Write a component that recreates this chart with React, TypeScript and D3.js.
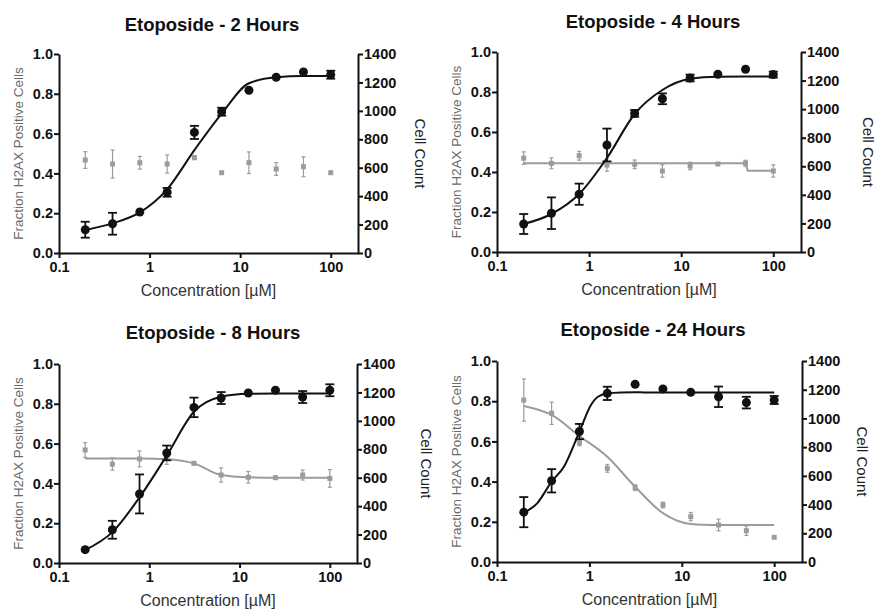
import React, { useEffect, useRef } from 'react';
import * as d3 from 'd3';

// doubling dilution series, µM
const concentrations = [0.195, 0.39, 0.78, 1.5625, 3.125, 6.25, 12.5, 25, 50, 100];
const titles = ['Etoposide - 2 Hours', 'Etoposide - 4 Hours', 'Etoposide - 8 Hours', 'Etoposide - 24 Hours'];
const fractionTicks = [0, 0.2, 0.4, 0.6, 0.8, 1.0];
const cellTicks = [0, 200, 400, 600, 800, 1000, 1200, 1400];
const concTicks = [0.1, 1, 10, 100];

// fraction H2AX positive cells (left axis), mean and error
const frac2h = [0.117, 0.147, 0.206, 0.305, 0.606, 0.71, 0.818, 0.883, 0.91, 0.896];
const frac2hErr = [0.04, 0.055, 0, 0.022, 0.033, 0.02, 0, 0, 0, 0.02];
const frac4h = [0.14, 0.194, 0.289, 0.535, 0.693, 0.766, 0.87, 0.889, 0.914, 0.887];
const frac4hErr = [0.05, 0.079, 0.053, 0.082, 0.017, 0.027, 0.017, 0, 0, 0.015];
const frac8h = [0.067, 0.167, 0.347, 0.553, 0.782, 0.829, 0.854, 0.868, 0.834, 0.868];
const frac8hErr = [0, 0.045, 0.098, 0.037, 0.049, 0.03, 0, 0, 0.03, 0.03];
const frac24h = [0.248, 0.404, 0.649, 0.839, 0.884, 0.861, 0.844, 0.822, 0.793, 0.806];
const frac24hErr = [0.075, 0.058, 0.038, 0.033, 0, 0, 0, 0.051, 0.029, 0.02];

// cell count (right axis), mean and error
const cells2h = [654, 626, 635, 626, 671, 565, 635, 591, 607, 565];
const cells2hErr = [59, 99, 45, 64, 14, 0, 76, 45, 70, 0];
const cells4h = [657, 621, 674, 609, 614, 567, 602, 616, 621, 567];
const cells4hErr = [44, 38, 31, 44, 30, 43, 26, 0, 21, 43];
const cells8h = [795, 696, 732, 736, 701, 619, 603, 600, 619, 595];
const cells8hErr = [52, 43, 56, 42, 10, 50, 41, 12, 35, 62];
const cells24h = [1128, 1036, 831, 652, 518, 397, 316, 258, 218, 172];
const cells24hErr = [147, 78, 21, 27, 20, 20, 29, 41, 33, 0];

// fitted curves
const fit2hY = [0.116, 0.149, 0.204, 0.32, 0.517, 0.7, 0.853, 0.883, 0.889, 0.889];
const fit4hY = [0.14, 0.19, 0.29, 0.47, 0.69, 0.81, 0.866, 0.876, 0.877, 0.877];
const fit8hY = [0.065, 0.155, 0.33, 0.54, 0.76, 0.835, 0.85, 0.852, 0.852, 0.852];
const fit24hX = [0.195, 0.272, 0.39, 0.53, 0.78, 1.04, 1.236, 1.5625, 2.2, 3.125, 6.25, 12.5, 25, 50, 100];
const fit24hY = [0.245, 0.292, 0.4, 0.474, 0.648, 0.781, 0.822, 0.838, 0.843, 0.844, 0.843, 0.843, 0.843, 0.843, 0.843];

const cellFit4hX = [0.195, 50, 53, 100];
const cellFit4hY = [621, 621, 569, 569];
const cellFit8hY = [736, 736, 735, 730, 701, 619, 603, 600, 600, 600];
const cellFit24hY = [1087, 1024, 878, 733, 524, 340, 265, 258, 257, 257];

const panels = [
  { title: titles[0], frac: frac2h, fracErr: frac2hErr, cells: cells2h, cellsErr: cells2hErr,
    fitX: concentrations, fitY: fit2hY, cellFitX: null, cellFitY: null,
    box: { left: 59, right: 358, top: 54, bottom: 253, titleX: 212, titleY: 31, cellX: 415 } },
  { title: titles[1], frac: frac4h, fracErr: frac4hErr, cells: cells4h, cellsErr: cells4hErr,
    fitX: concentrations, fitY: fit4hY, cellFitX: cellFit4hX, cellFitY: cellFit4hY,
    box: { left: 497, right: 801, top: 52, bottom: 252, titleX: 653, titleY: 28, cellX: 863 } },
  { title: titles[2], frac: frac8h, fracErr: frac8hErr, cells: cells8h, cellsErr: cells8hErr,
    fitX: concentrations, fitY: fit8hY, cellFitX: concentrations, cellFitY: cellFit8hY,
    box: { left: 59, right: 357, top: 364, bottom: 563, titleX: 213, titleY: 339, cellX: 421 } },
  { title: titles[3], frac: frac24h, fracErr: frac24hErr, cells: cells24h, cellsErr: cells24hErr,
    fitX: fit24hX, fitY: fit24hY, cellFitX: concentrations, cellFitY: cellFit24hY,
    box: { left: 497, right: 802, top: 361, bottom: 562, titleX: 653, titleY: 336, cellX: 857 } },
];

const FONT = '"Liberation Sans", Arial, sans-serif';
const GRAY = '#9c9c9c';

const App = () => {
  const svgRef = useRef<SVGSVGElement>(null);

  useEffect(() => {
    const svg = d3.select(svgRef.current);
    svg.selectAll('*').remove();

    panels.forEach(p => {
      const b = p.box;
      const g = svg.append('g');

      const x = d3.scaleLog().domain([0.1, 200]).range([b.left, b.right]);
      const yL = d3.scaleLinear().domain([0, 1]).range([b.bottom, b.top]);
      const yR = d3.scaleLinear().domain([0, 1400]).range([b.bottom, b.top]);

      const styleAxis = (sel: any) => {
        sel.attr('font-family', FONT).attr('font-size', 14.5).attr('font-weight', 'bold');
        sel.selectAll('path.domain').attr('stroke', '#111').attr('stroke-width', 2);
        sel.selectAll('.tick line').attr('stroke', '#111').attr('stroke-width', 2);
        sel.selectAll('.tick text').attr('fill', '#111');
      };

      g.append('g')
        .attr('transform', `translate(${b.left},0)`)
        .call(d3.axisLeft(yL).tickValues(fractionTicks).tickFormat(d3.format('.1f')).tickSize(5).tickSizeOuter(0).tickPadding(1))
        .call(styleAxis);

      g.append('g')
        .attr('transform', `translate(${b.right},0)`)
        .call(d3.axisRight(yR).tickValues(cellTicks).tickFormat(d3.format('d')).tickSize(5).tickSizeOuter(0).tickPadding(1))
        .call(styleAxis);

      g.append('g')
        .attr('transform', `translate(0,${b.bottom})`)
        .call(d3.axisBottom(x).tickValues(concTicks).tickFormat(d => String(d)).tickSize(5).tickSizeOuter(0).tickPadding(4))
        .call(styleAxis);

      // title and axis labels
      g.append('text')
        .attr('x', b.titleX).attr('y', b.titleY)
        .attr('text-anchor', 'middle')
        .style('font-family', FONT).style('font-size', '18.5px').style('font-weight', 'bold')
        .style('fill', '#111')
        .text(p.title);

      g.append('text')
        .attr('x', (b.left + b.right) / 2).attr('y', b.bottom + 43)
        .attr('text-anchor', 'middle')
        .style('font-family', FONT).style('font-size', '16px').style('fill', '#333')
        .text('Concentration [\u00b5M]');

      g.append('text')
        .attr('transform', `translate(${b.left - 36},${(b.top + b.bottom) / 2}) rotate(-90)`)
        .attr('text-anchor', 'middle')
        .style('font-family', FONT).style('font-size', '13.5px').style('fill', '#6a6a6a')
        .text('Fraction H2AX Positive Cells');

      g.append('text')
        .attr('transform', `translate(${b.cellX},${(b.top + b.bottom) / 2}) rotate(90)`)
        .attr('text-anchor', 'middle')
        .style('font-family', FONT).style('font-size', '15px').style('fill', '#222')
        .text('Cell Count');

      const line = d3.line<number>().curve(d3.curveMonotoneX);

      // cell count series (gray)
      if (p.cellFitX && p.cellFitY) {
        const pts = p.cellFitX.map((c, i) => [x(c), yR(p.cellFitY![i])] as [number, number]);
        g.append('path')
          .attr('d', (line as any)(pts))
          .attr('fill', 'none').attr('stroke', GRAY).attr('stroke-width', 2);
      }

      const cellData = concentrations.map((c, i) => ({ c, v: p.cells[i], e: p.cellsErr[i] }));
      const gErr = g.append('g').attr('stroke', GRAY).attr('stroke-width', 1.2);
      cellData.filter(d => d.e > 0).forEach(d => {
        const cx = x(d.c);
        gErr.append('line').attr('x1', cx).attr('x2', cx).attr('y1', yR(d.v - d.e)).attr('y2', yR(d.v + d.e));
        gErr.append('line').attr('x1', cx - 2).attr('x2', cx + 2).attr('y1', yR(d.v - d.e)).attr('y2', yR(d.v - d.e));
        gErr.append('line').attr('x1', cx - 2).attr('x2', cx + 2).attr('y1', yR(d.v + d.e)).attr('y2', yR(d.v + d.e));
      });
      g.append('g')
        .selectAll('rect')
        .data(cellData)
        .join('rect')
        .attr('x', d => x(d.c) - 2.5)
        .attr('y', d => yR(d.v) - 2.5)
        .attr('width', 5)
        .attr('height', 5)
        .attr('fill', GRAY);

      // fraction series (black)
      const fitPts = p.fitX.map((c, i) => [x(c), yL(p.fitY[i])] as [number, number]);
      g.append('path')
        .attr('d', (line as any)(fitPts))
        .attr('fill', 'none').attr('stroke', '#111').attr('stroke-width', 2);

      const fracData = concentrations.map((c, i) => ({ c, v: p.frac[i], e: p.fracErr[i] }));
      const bErr = g.append('g').attr('stroke', '#111').attr('stroke-width', 1.8);
      fracData.filter(d => d.e > 0).forEach(d => {
        const cx = x(d.c);
        bErr.append('line').attr('x1', cx).attr('x2', cx).attr('y1', yL(d.v - d.e)).attr('y2', yL(d.v + d.e));
        bErr.append('line').attr('x1', cx - 4.5).attr('x2', cx + 4.5).attr('y1', yL(d.v - d.e)).attr('y2', yL(d.v - d.e));
        bErr.append('line').attr('x1', cx - 4.5).attr('x2', cx + 4.5).attr('y1', yL(d.v + d.e)).attr('y2', yL(d.v + d.e));
      });
      g.append('g')
        .selectAll('circle')
        .data(fracData)
        .join('circle')
        .attr('cx', d => x(d.c))
        .attr('cy', d => yL(d.v))
        .attr('r', 4.5)
        .attr('fill', '#111');
    });
  }, []);

  return (
    <svg
      ref={svgRef}
      width={878}
      height={613}
      style={{ position: 'absolute', left: 0, top: 0, background: '#fff' }}
    />
  );
};

export default App;
